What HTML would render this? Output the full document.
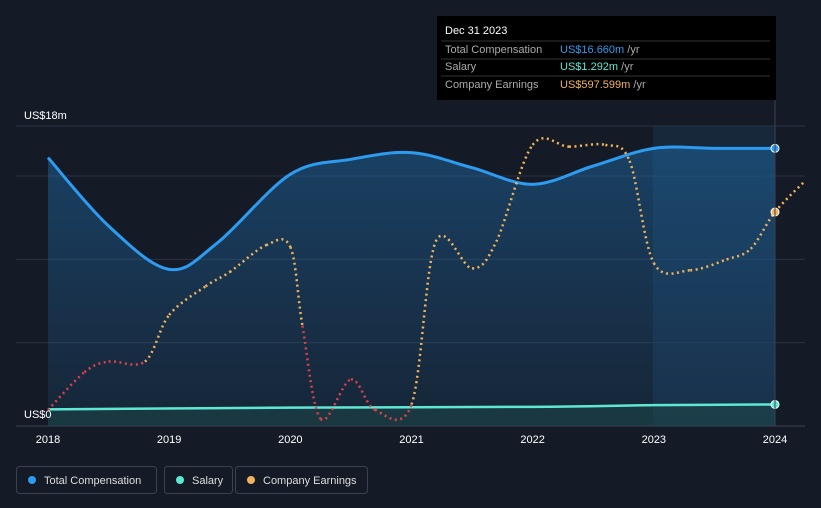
<!DOCTYPE html>
<html><head><meta charset="utf-8"><style>
body{margin:0;background:#151b26;font-family:"Liberation Sans",sans-serif;}
svg{display:block}
</style></head><body>
<svg width="821" height="508">
<defs>
<linearGradient id="af" x1="0" y1="0" x2="0" y2="1"><stop offset="0" stop-color="#1f6fb0" stop-opacity="0.45"/><stop offset="1" stop-color="#1f6fb0" stop-opacity="0.12"/></linearGradient>
</defs>
<rect width="821" height="508" fill="#151b26"/>
<g id="grid"></g>
<rect x="653" y="126" width="122" height="300" fill="#1c3650" opacity="0.5"/>
<g id="marks"></g>
<line x1="775" y1="100" x2="775" y2="426" stroke="#3a4250"/>
<g id="axis"></g>
<text x="24" y="119" fill="#fff" font-size="11">US$18m</text>
<text x="24" y="418" fill="#fff" font-size="11">US$0</text>
<g>
<rect x="437" y="16" width="339" height="84" fill="#000"/>
<text x="445" y="34" fill="#fff" font-size="11">Dec 31 2023</text>
<line x1="441" y1="41" x2="770" y2="41" stroke="#333"/>
<text x="445" y="53" fill="#aaa" font-size="11">Total Compensation</text><text x="560" y="53" fill="#2d9cf0" font-size="11">US$16.660m <tspan fill="#aaa">/yr</tspan></text>
<line x1="441" y1="59" x2="770" y2="59" stroke="#333"/>
<text x="445" y="70" fill="#aaa" font-size="11">Salary</text><text x="560" y="70" fill="#5ee8d4" font-size="11">US$1.292m <tspan fill="#aaa">/yr</tspan></text>
<line x1="441" y1="76" x2="770" y2="76" stroke="#333"/>
<text x="445" y="88" fill="#aaa" font-size="11">Company Earnings</text><text x="560" y="88" fill="#f2b45a" font-size="11">US$597.599m <tspan fill="#aaa">/yr</tspan></text>
</g>
<g>
<g><rect x="16.5" y="466.5" width="140" height="27" rx="3" fill="none" stroke="#3a4250"/><circle cx="32" cy="480" r="4" fill="#2d9cf0"/><text x="44" y="484" fill="#ddd" font-size="11">Total Compensation</text></g>
<g><rect x="164.5" y="466.5" width="68" height="27" rx="3" fill="none" stroke="#3a4250"/><circle cx="180" cy="480" r="4" fill="#5ee8d4"/><text x="192" y="484" fill="#ddd" font-size="11">Salary</text></g>
<g><rect x="235.5" y="466.5" width="132" height="27" rx="3" fill="none" stroke="#3a4250"/><circle cx="251" cy="480" r="4" fill="#f2b45a"/><text x="263" y="484" fill="#ddd" font-size="11">Company Earnings</text></g>
</g>
</svg>
<script>
const years=[2018,2019,2020,2021,2022,2023,2024];
const compX=[2018,2018.5,2019,2019.4,2020,2020.5,2021,2021.5,2022,2022.5,2023,2023.5,2024];
const compV=[16.1,12.0,9.4,11.0,15.1,16.0,16.4,15.5,14.5,15.6,16.66,16.66,16.66];
const salX=[2018,2020,2022,2023,2024];
const salV=[1.0,1.1,1.15,1.25,1.292];
const earnX=[2018,2018.3,2018.5,2018.8,2019,2019.3,2019.5,2019.8,2020,2020.1,2020.25,2020.5,2020.7,2021,2021.2,2021.5,2021.7,2022,2022.3,2022.6,2022.8,2023,2023.3,2023.6,2023.8,2024,2024.25];
const earnV=[45,150,180,180,310,390,430,505,500,280,20,130,45,60,515,440,515,785,780,785,740,455,435,465,495,597.6,685];
const ns="http://www.w3.org/2000/svg";
const X=y=>48+(y-2018)*(727/6);
const Y=v=>426-v*(300/18);
const YE=v=>426-v*(214/597.6);
function el(t,a,p){const e=document.createElementNS(ns,t);for(const k in a)e.setAttribute(k,a[k]);(p||document.getElementById('marks')).appendChild(e);return e;}
function smooth(pts){let d="M"+pts[0][0]+","+pts[0][1];for(let i=0;i<pts.length-1;i++){const p0=pts[Math.max(0,i-1)],p1=pts[i],p2=pts[i+1],p3=pts[Math.min(pts.length-1,i+2)];const c1=[p1[0]+(p2[0]-p0[0])/6,p1[1]+(p2[1]-p0[1])/6],c2=[p2[0]-(p3[0]-p1[0])/6,p2[1]-(p3[1]-p1[1])/6];d+=` C${c1[0]},${c1[1]} ${c2[0]},${c2[1]} ${p2[0]},${p2[1]}`;}return d;}
const g=document.getElementById('grid');
[0,5,10,15,18].forEach(v=>{const l=el('line',{x1:16,x2:805,y1:Y(v),y2:Y(v),stroke:v==0?'#3a4250':'#2a3140'},g);

});
const cp=compX.map((x,i)=>[X(x),Y(compV[i])]);
const cd=smooth(cp);
const area=el('path',{d:cd+` L${X(2024)},426 L${X(2018)},426 Z`,fill:'url(#af)'});


const sp=salX.map((x,i)=>[X(x),Y(salV[i])]);
const sa=el('path',{d:smooth(sp)+` L${X(2024)},426 L${X(2018)},426 Z`,fill:'#1d4a4a',opacity:0.5});


const cl=el('path',{d:cd,fill:'none',stroke:'#2d9cf0','stroke-width':3});


const sl=el('path',{d:smooth(sp),fill:'none',stroke:'#5ee8d4','stroke-width':2.5});


const ep=earnX.map((x,i)=>[X(x),YE(earnV[i])]);
for(let i=0;i<ep.length-1;i++){
 const p0=ep[Math.max(0,i-1)],p1=ep[i],p2=ep[i+1],p3=ep[Math.min(ep.length-1,i+2)];
 const c1=[p1[0]+(p2[0]-p0[0])/6,p1[1]+(p2[1]-p0[1])/6],c2=[p2[0]-(p3[0]-p1[0])/6,p2[1]-(p3[1]-p1[1])/6];
 const low=(earnV[i]+earnV[i+1])/2<230;
 const s=el('path',{d:`M${p1[0]},${p1[1]} C${c1[0]},${c1[1]} ${c2[0]},${c2[1]} ${p2[0]},${p2[1]}`,fill:'none',stroke:low?'#e0404a':'#f2b45a','stroke-width':2.5,'stroke-dasharray':'2 3.5'});
 
 
}
[[X(2024),Y(16.66),'#2d9cf0','total-compensation-point'],[X(2024),YE(597.6),'#f2b45a','company-earnings-point'],[X(2024),Y(1.292),'#5ee8d4','salary-point']].forEach(p=>{
 const c=el('circle',{cx:p[0],cy:p[1],r:4,fill:p[2],stroke:'#fff','stroke-width':1});
 
 
});
const ax=document.getElementById('axis');
years.forEach(y=>{const t=el('text',{x:X(y),y:443,fill:'#fff','font-size':11,'text-anchor':'middle'},ax);t.textContent=y;

});
</script>
</body></html>
